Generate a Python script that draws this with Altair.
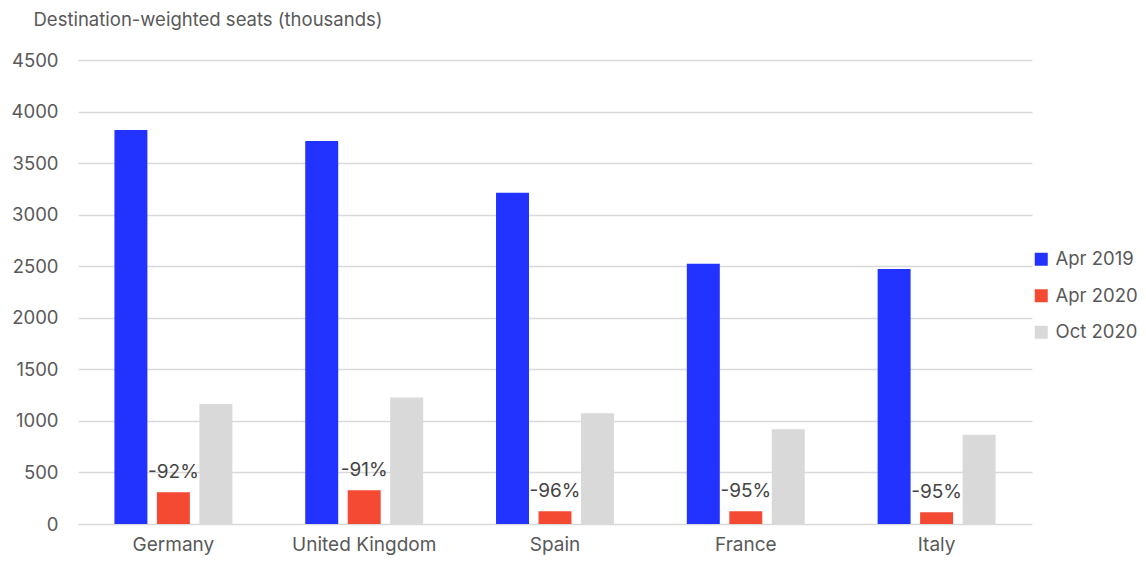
import altair as alt
import pandas as pd

countries = ["Germany", "United Kingdom", "Spain", "France", "Italy"]
series = ["Apr 2019", "Apr 2020", "Oct 2020"]
apr2019 = [3820, 3715, 3213, 2525, 2473]
apr2020 = [309, 328, 123, 123, 113]
oct2020 = [1165, 1226, 1075, 920, 866]
pct_labels = ["-92%", "-91%", "-96%", "-95%", "-95%"]
colors = ["#2233FF", "#F44A33", "#D9D9D9"]

rows = []
for i, c in enumerate(countries):
    for s, vals in zip(series, [apr2019, apr2020, oct2020]):
        rows.append({"country": c, "series": s, "value": vals[i]})
df = pd.DataFrame(rows)
lab = pd.DataFrame({"country": countries, "series": ["Apr 2020"] * 5,
                    "value": apr2020, "label": pct_labels})

FONT = "Inter"
TXT = "#595959"

x = alt.X("country:N", sort=countries,
          scale=alt.Scale(paddingInner=0.332, paddingOuter=0.166),
          axis=alt.Axis(title=None, labelAngle=0, labelFontSize=19, labelColor=TXT,
                        labelFont=FONT, ticks=False, domain=False, labelPadding=11))
xo = alt.XOffset("series:N", sort=series,
                 scale=alt.Scale(paddingInner=0.224, paddingOuter=0.112))
y = alt.Y("value:Q", scale=alt.Scale(domain=[0, 4500]),
          axis=alt.Axis(values=list(range(0, 4501, 500)), format="d",
                        title="Destination-weighted seats (thousands)",
                        titleAngle=0, titleAlign="left", titleBaseline="alphabetic",
                        titleX=-45, titleY=-35, titleFontSize=18.5, titleFontWeight="normal",
                        titleColor=TXT, titleFont=FONT,
                        labelFontSize=18.5, labelColor=TXT, labelFont=FONT, labelPadding=20,
                        ticks=False, domain=False, gridColor="#D9D9D9", gridWidth=1.6))

bars = alt.Chart(df).mark_bar().encode(
    x=x, xOffset=xo, y=y,
    color=alt.Color("series:N", sort=series,
                    scale=alt.Scale(domain=series, range=colors),
                    legend=alt.Legend(title=None, orient="none", legendX=954, legendY=190,
                                      symbolType="square", symbolSize=169, symbolStrokeWidth=0,
                                      labelFontSize=18.5, labelColor=TXT, labelFont=FONT,
                                      rowPadding=17.5, labelOffset=5)),
)

texts = alt.Chart(lab).mark_text(fontSize=19, font=FONT, color="#444444",
                                 baseline="alphabetic", dy=-14.5).encode(
    x=alt.X("country:N", sort=countries), xOffset=alt.XOffset("series:N", sort=series),
    y=alt.Y("value:Q"), text="label:N")

chart = alt.layer(bars, texts).properties(
    width=954, height=464,
    autosize=alt.AutoSizeParams(type="none"),
    padding={"left": 70, "top": 52, "right": 106, "bottom": 35},
).configure_view(stroke=None)

chart.save("out.html", embed_options={"renderer": "svg", "actions": False})
